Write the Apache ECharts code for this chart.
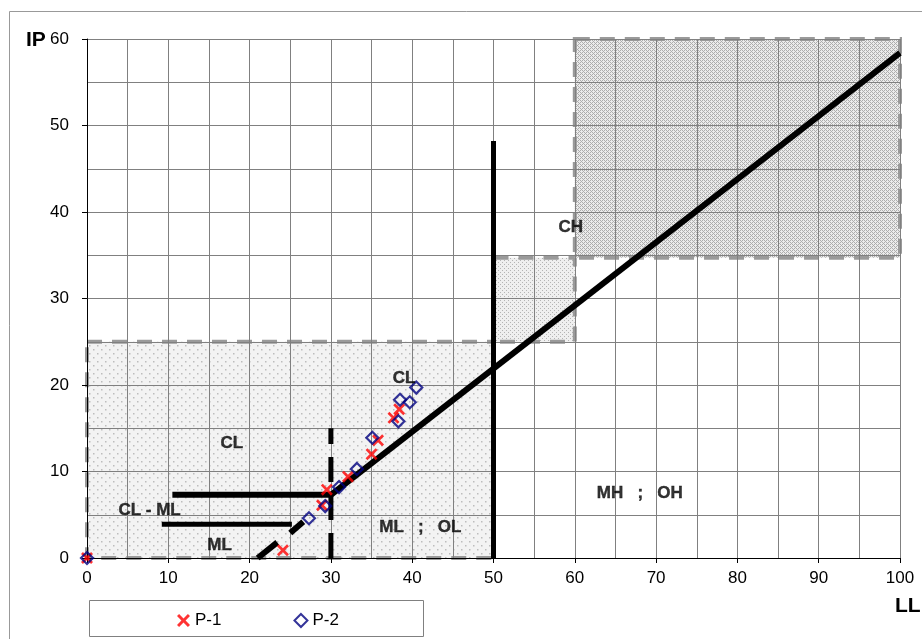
<!DOCTYPE html>
<html>
<head>
<meta charset="utf-8">
<script src="https://cdn.jsdelivr.net/npm/echarts@6/dist/echarts.min.js"></script>
<style>
  html, body { margin: 0; padding: 0; background: #fff; }
  #chart { width: 922px; height: 639px; }
</style>
</head>
<body>
<div id="chart"></div>
<script>
// P-1 / P-2 samples: [LL, IP]
const p1 = [[0, 0], [24.1, 0.9], [28.9, 6.1], [29.5, 7.9], [32.1, 9.4], [35.0, 12.0], [35.8, 13.6], [37.7, 16.2], [38.4, 17.2]];
const p2 = [[0, 0], [27.3, 4.6], [29.3, 6.0], [31.0, 8.2], [33.2, 10.3], [35.1, 13.9], [38.3, 15.8], [38.5, 18.3], [39.7, 18.0], [40.5, 19.7]];

// shaded zones: [LL0, IP0, LL1, IP1, pattern]
const zones = [[0, 0, 50, 25, 0], [50, 25, 60, 34.7, 1], [60, 34.7, 100, 60, 2]];

// boundary lines
const aLineLow = [[21, 0], [23.4, 1.8]];
const aLineMid = [[25.0, 2.9], [26.6, 4.2]];
const aLine = [[30, 7.3], [100, 58.4]];
const hLine4 = [[9.2, 3.9], [25.2, 3.9]];
const hLine7 = [[10.5, 7.3], [30.2, 7.3]];
const vLine50 = [[50, 0], [50, 48.2]];
const vLine30 = [[30, 0], [30, 15]];

// zone names
const zoneLabels = [
  { name: "CH", value: [59.5, 38.2] },
  { name: "CL", value: [39.0, 20.8] },
  { name: "CL", value: [17.8, 13.3] },
  { name: "CL - ML", value: [7.7, 5.5] },
  { name: "ML", value: [16.3, 1.5] },
  { name: "ML   ;   OL", value: [41.0, 3.6] },
  { name: "MH   ;   OH", value: [68.0, 7.5] },
];

//纹理
function makePattern(kind) {
  let c = document.createElement("canvas");
  let ctx = c.getContext("2d");
  if (kind === 0) {
    c.width = 8; c.height = 8;
    ctx.fillStyle = "#f3f3f3";
    ctx.fillRect(0, 0, 8, 8);
    ctx.fillStyle = "#bdbdbd";
    ctx.fillRect(1, 1, 1.5, 1.5);
    ctx.fillRect(5, 5, 1.5, 1.5);
  } else if (kind === 1) {
    c.width = 4; c.height = 4;
    ctx.fillStyle = "#efefef";
    ctx.fillRect(0, 0, 4, 4);
    ctx.fillStyle = "#b4b4b4";
    ctx.fillRect(0, 0, 1, 1);
    ctx.fillRect(2, 2, 1, 1);
  } else {
    c.width = 4; c.height = 4;
    ctx.fillStyle = "#ebebeb";
    ctx.fillRect(0, 0, 4, 4);
    ctx.fillStyle = "#adadad";
    ctx.fillRect(0, 0, 1, 1);
    ctx.fillRect(2, 0, 1, 1);
    ctx.fillRect(1, 1, 1, 1);
    ctx.fillRect(0, 2, 1, 1);
    ctx.fillRect(2, 2, 1, 1);
    ctx.fillRect(3, 3, 1, 1);
  }
  return { image: c, repeat: "repeat" };
}
const patterns = [makePattern(0), makePattern(1), makePattern(2)];

const xMark = "path://M0,1.6L1.6,0L5,3.4L8.4,0L10,1.6L6.6,5L10,8.4L8.4,10L5,6.6L1.6,10L0,8.4L3.4,5Z";

function lineSeries(data, width, dash) {
  return {
    type: "line",
    data: data,
    symbol: "none",
    silent: true,
    z: 3,
    lineStyle: { color: "#000", width: width, type: dash || "solid", cap: "butt" },
  };
}

let chartDom = document.getElementById("chart");
let myChart = echarts.init(chartDom);
let option = {
  backgroundColor: "#fff",
  animation: false,
  grid: { left: 87, right: 22, top: 39, bottom: 81 },
  xAxis: {
    type: "value",
    min: 0,
    max: 100,
    interval: 10,
    axisLine: { onZero: false, lineStyle: { color: "#000", width: 1 } },
    axisTick: { show: true, length: 5, lineStyle: { color: "#000" } },
    axisLabel: { color: "#000", fontSize: 17, fontFamily: "Liberation Sans", margin: 12 },
    splitLine: { show: true, lineStyle: { color: "#808080", width: 1 } },
    minorTick: { show: false, splitNumber: 2 },
    minorSplitLine: { show: true, lineStyle: { color: "#808080", width: 1 } },
  },
  yAxis: {
    type: "value",
    min: 0,
    max: 60,
    interval: 10,
    axisLine: { onZero: false, lineStyle: { color: "#000", width: 1 } },
    axisTick: { show: true, length: 5, lineStyle: { color: "#000" } },
    axisLabel: { color: "#000", fontSize: 17, fontFamily: "Liberation Sans", margin: 18 },
    splitLine: { show: true, lineStyle: { color: "#808080", width: 1 } },
    minorTick: { show: false, splitNumber: 2 },
    minorSplitLine: { show: true, lineStyle: { color: "#808080", width: 1 } },
  },
  legend: {
    data: ["P-1", "P-2"],
    left: 172,
    top: 607,
    itemGap: 72,
    itemWidth: 13,
    itemHeight: 13,
    textStyle: { color: "#000", fontSize: 17, fontFamily: "Liberation Sans" },
  },
  graphic: [
    {
      type: "rect",
      left: 87,
      top: 598,
      shape: { width: 334, height: 36 },
      style: { fill: "none", stroke: "#808080", lineWidth: 1 },
      z: -1,
    },
    {
      type: "rect",
      left: 7,
      top: 9,
      shape: { width: 914, height: 629 },
      style: { fill: "none", stroke: "#999", lineWidth: 1 },
    },
    {
      type: "text",
      left: 26,
      top: 30,
      style: { text: "IP", font: "bold 21px 'Liberation Sans'", fill: "#000" },
    },
    {
      type: "text",
      left: 895,
      top: 596,
      style: { text: "LL", font: "bold 21px 'Liberation Sans'", fill: "#000" },
    },
  ],
  series: [
    {
      type: "custom",
      z: -1,
      silent: true,
      data: zones,
      renderItem: function (params, api) {
        let p0 = api.coord([api.value(0), api.value(1)]);
        let p1c = api.coord([api.value(2), api.value(3)]);
        return {
          type: "rect",
          shape: { x: p0[0], y: p1c[1], width: p1c[0] - p0[0], height: p0[1] - p1c[1] },
          style: {
            fill: patterns[api.value(4)],
            stroke: "#9a9a9a",
            lineWidth: 4,
            lineDash: [15, 10],
          },
        };
      },
    },
    lineSeries(aLineLow, 6),
    lineSeries(aLineMid, 6),
    lineSeries(aLine, 6),
    lineSeries(hLine4, 5),
    lineSeries(hLine7, 6),
    lineSeries(vLine50, 5),
    lineSeries(vLine30, 5, [25, 13]),
    {
      name: "P-1",
      type: "scatter",
      data: p1,
      symbol: xMark,
      symbolSize: 12,
      z: 5,
      itemStyle: { color: "#ff0000" },
    },
    {
      name: "P-2",
      type: "scatter",
      data: p2,
      symbol: "diamond",
      symbolSize: [12, 12],
      z: 5,
      itemStyle: { color: "rgba(255,255,255,0)", borderColor: "#000080", borderWidth: 2.2 },
    },
    {
      type: "scatter",
      data: zoneLabels,
      symbolSize: 0,
      silent: true,
      z: 6,
      label: {
        show: true,
        position: "inside",
        formatter: "{b}",
        color: "#000",
        fontWeight: "bold",
        fontSize: 17,
        fontFamily: "Liberation Sans",
        textBorderColor: "#000",
        textBorderWidth: 0.4,
      },
    },
  ],
};
option && myChart.setOption(option);
</script>
</body>
</html>
